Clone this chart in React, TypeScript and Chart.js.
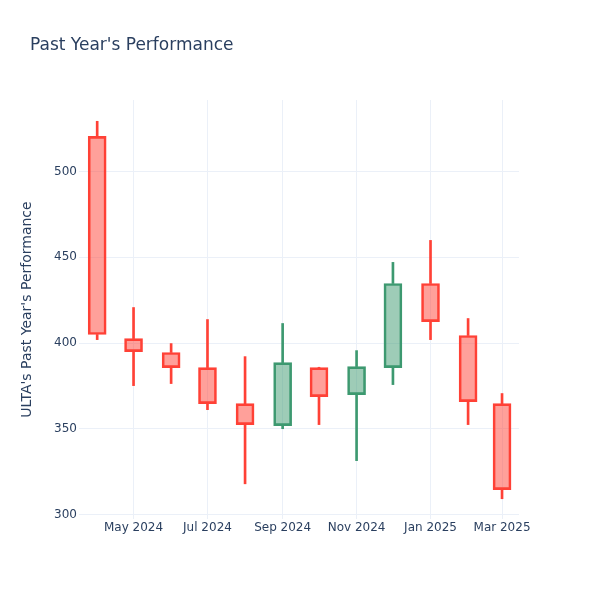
import React, { useEffect, useRef } from "react";
import { Chart, registerables } from "chart.js";

Chart.register(...registerables);

const dates = [
  "2024-04-01", "2024-05-01", "2024-06-01", "2024-07-01", "2024-08-01", "2024-09-01",
  "2024-10-01", "2024-11-01", "2024-12-01", "2025-01-01", "2025-02-01", "2025-03-01",
];
const openVals = [520.4, 402.6, 394.5, 385.7, 364.7, 351.9, 385.7, 370.0, 385.7, 434.7, 404.4, 364.7];
const highVals = [529.2, 420.7, 399.7, 413.7, 392.1, 411.4, 385.9, 395.6, 447.0, 459.8, 414.3, 370.6];
const lowVals = [402.0, 375.2, 376.4, 361.2, 318.0, 350.1, 352.5, 331.5, 375.8, 402.0, 352.5, 309.3];
const closeVals = [405.0, 395.0, 385.7, 364.7, 352.5, 388.6, 368.8, 386.3, 434.7, 412.5, 365.9, 314.6];

const xTickDates = ["2024-05-01", "2024-07-01", "2024-09-01", "2024-11-01", "2025-01-01", "2025-03-01"];
const xTickLabels = ["May 2024", "Jul 2024", "Sep 2024", "Nov 2024", "Jan 2025", "Mar 2025"];
const yTicks = [300, 350, 400, 450, 500];

const titleText = "Past Year's Performance";
const yTitleText = "ULTA's Past Year's Performance";

const UP_LINE = "#3D9970";
const UP_FILL = "rgba(61,153,112,0.5)";
const DOWN_LINE = "#FF4136";
const DOWN_FILL = "rgba(255,65,54,0.5)";
const TEXT = "#2a3f5f";
const GRID = "#ebf0f8";
const FONT = "'DejaVu Sans', Verdana, sans-serif";

const DAY = 86400000;
const dayOf = (d: string) => (Date.parse(d) - Date.parse(dates[0])) / DAY;

export default function App() {
  const ref = useRef<HTMLCanvasElement | null>(null);

  useEffect(() => {
    if (!ref.current) return;
    const xs = dates.map(dayOf);
    const up = openVals.map((o, i) => closeVals[i] >= o);
    const lineColors = up.map((u) => (u ? UP_LINE : DOWN_LINE));
    const fillColors = up.map((u) => (u ? UP_FILL : DOWN_FILL));

    const bodies = xs.map((x, i) => ({ x, y: [openVals[i], closeVals[i]] }));
    const upperWicks = xs.map((x, i) => ({ x, y: [Math.max(openVals[i], closeVals[i]), highVals[i]] }));
    const lowerWicks = xs.map((x, i) => ({ x, y: [lowVals[i], Math.min(openVals[i], closeVals[i])] }));

    const titlePlugin = {
      id: "plotTitle",
      afterDraw(chart: any) {
        const ctx = chart.ctx;
        ctx.save();
        ctx.font = `17px ${FONT}`;
        ctx.fillStyle = TEXT;
        ctx.textBaseline = "alphabetic";
        ctx.textAlign = "left";
        ctx.fillText(titleText, 30, 50);
        ctx.restore();
      },
    };

    const chart = new Chart(ref.current, {
      type: "bar",
      data: {
        datasets: [
          {
            label: "body",
            data: bodies as any,
            backgroundColor: fillColors,
            borderColor: lineColors,
            borderWidth: 2,
            borderSkipped: false,
            barThickness: 18,
            grouped: false,
            order: 0,
          } as any,
          {
            label: "upper",
            data: upperWicks as any,
            backgroundColor: lineColors,
            borderWidth: 0,
            barThickness: 2,
            grouped: false,
            order: 1,
          } as any,
          {
            label: "lower",
            data: lowerWicks as any,
            backgroundColor: lineColors,
            borderWidth: 0,
            barThickness: 2,
            grouped: false,
            order: 1,
          } as any,
        ],
      },
      options: {
        animation: false,
        responsive: false,
        maintainAspectRatio: false,
        layout: { padding: { left: 19, top: 100, right: 81, bottom: 51 } },
        plugins: {
          legend: { display: false },
          tooltip: { enabled: false },
          title: { display: false },
        },
        scales: {
          x: {
            type: "linear",
            min: -15,
            max: 348,
            offset: false,
            border: { display: false },
            grid: { color: GRID, lineWidth: 1, drawTicks: false, offset: false },
            ticks: {
              color: TEXT,
              font: { size: 12, family: FONT },
              padding: 2,
              maxRotation: 0,
              autoSkip: false,
              callback: (v: any) => {
                const idx = xTickDates.findIndex((d) => dayOf(d) === v);
                return idx >= 0 ? xTickLabels[idx] : "";
              },
            },
            afterBuildTicks: (scale: any) => {
              scale.ticks = xTickDates.map((d) => ({ value: dayOf(d) }));
            },
            afterFit: (scale: any) => {
              scale.height = 30;
            },
          },
          y: {
            type: "linear",
            min: 297.5,
            max: 541.6,
            border: { display: false },
            grid: { color: GRID, lineWidth: 1, drawTicks: false },
            ticks: {
              color: TEXT,
              font: { size: 12, family: FONT },
              padding: 2,
            },
            afterBuildTicks: (scale: any) => {
              scale.ticks = yTicks.map((v) => ({ value: v }));
            },
            afterFit: (scale: any) => {
              scale.width = 60;
            },
            title: {
              display: true,
              text: yTitleText,
              color: TEXT,
              font: { size: 14, family: FONT },
              padding: 0,
            },
          },
        },
      },
      plugins: [titlePlugin],
    });

    return () => chart.destroy();
  }, []);

  return (
    <div style={{ position: "fixed", left: 0, top: 0, width: 600, height: 600, background: "#fff" }}>
      <canvas ref={ref} width={600} height={600} style={{ display: "block" }} />
    </div>
  );
}
